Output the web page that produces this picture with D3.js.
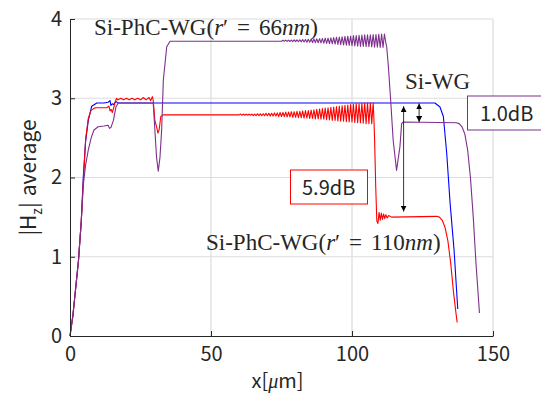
<!DOCTYPE html>
<html>
<head>
<meta charset="utf-8">
<script src="https://cdn.jsdelivr.net/npm/d3@7"></script>
<style>
  body { margin: 0; background: #fff; }
  text { fill: #262626; }
</style>
</head>
<body>
<div id="chart"></div>
<script>
var width = 541;
var height = 394;
var margin = {left: 70, right: 48, top: 19, bottom: 58};

// tick values
var xTicks = [0, 50, 100, 150];
var yTicks = [0, 1, 2, 3, 4];

// Si-WG (blue)
var siWG = [[0,0],[1,0.25],[2,0.6],[3,0.95],[4,1.45],[4.7,2.0],[5.5,2.45],[6.5,2.72],[7.7,2.9],[9.5,2.94],
  [12,2.94],[13.5,2.95],[14.2,2.97],[14.5,2.91],[15,2.93],[15.5,2.92],[16.2,2.96],[17,2.94],[129.4,2.94],
  [131.2,2.89],[132.4,2.77],[133.6,2.3],[134.8,1.67],[136.2,1.08],[137.5,0.34]];

// Si-PhC-WG r'=66nm (purple)
var phc66 = [[0,0],[1,0.25],[2,0.6],[3,0.95],[4,1.45],[4.7,1.9],[5.5,2.15],[6.5,2.35],[7.5,2.5],[8.5,2.6],
  [10,2.64],[12,2.65],[13.5,2.66],[14,2.62],[14.5,2.63],[15.4,2.72],[16.3,2.89],[17.1,2.94],[29.5,2.94],
  [30.1,2.6],[30.7,2.25],[31.3,2.08],[31.9,2.25],[32.5,2.6],[33.1,3.23],[34.3,3.65],[35.5,3.72],[75,3.72],
  [75.5,3.732],[76,3.718],[76.5,3.733],[77,3.717],[77.5,3.734],[78,3.716],[78.5,3.735],[79,3.715],[79.5,3.736],
  [80,3.714],[80.5,3.737],[81,3.713],[81.5,3.738],[82,3.712],[82.5,3.74],[83,3.71],[83.5,3.742],[84,3.708],
  [84.5,3.744],[85,3.706],[85.5,3.746],[86,3.704],[86.5,3.748],[87,3.702],[87.5,3.75],[88,3.70],[88.5,3.752],
  [89,3.698],[89.5,3.755],[90,3.695],[90.5,3.758],[91,3.692],[91.5,3.76],[92,3.69],[92.5,3.763],[93,3.687],
  [93.5,3.766],[94,3.684],[94.5,3.77],[95,3.68],[95.5,3.773],[96,3.677],[96.5,3.776],[97,3.674],[97.5,3.78],
  [98,3.67],[98.5,3.783],[99,3.667],[99.5,3.786],[100,3.664],[100.5,3.79],[101,3.66],[101.5,3.792],[102,3.658],
  [102.5,3.795],[103,3.655],[103.5,3.797],[104,3.653],[104.5,3.80],[105,3.65],[105.5,3.80],[106,3.65],
  [106.5,3.802],[107,3.648],[107.5,3.805],[108,3.645],[108.5,3.805],[109,3.645],[109.5,3.808],[110,3.642],
  [110.5,3.81],[111,3.64],[111.5,3.81],[112,3.70],[112.3,3.65],[112.9,3.4],[113.7,2.98],[114.6,2.47],
  [115.8,2.09],[117,2.39],[117.6,2.68],[118.2,2.7],[137,2.69],[138,2.68],[139,2.64],[140,2.55],[141,2.35],
  [142,2.0],[143,1.5],[144,0.9],[145.2,0.29]];

// Si-PhC-WG r'=110nm (red)
var phc110 = [[0,0],[1,0.25],[2,0.6],[3,0.95],[4,1.45],[4.8,2.0],[5.6,2.5],[6.5,2.75],[7.5,2.85],[9,2.88],
  [13,2.88],[13.8,2.9],[14.2,2.84],[14.6,2.86],[15,2.82],[15.5,2.88],[16,2.95],[16.5,3.0],[17,2.98],[18,3.0],
  [19,2.98],[20,3.0],[21,2.98],[22,3.0],[23,2.98],[24,3.0],[25,2.98],[26,3.01],[27,2.98],[28,3.01],[28.6,2.97],
  [29.2,3.02],[29.5,2.98],[30.1,2.72],[30.7,2.64],[31.2,2.56],[31.6,2.6],[32.2,2.77],[33,2.79],[60,2.79],
  [60.5,2.80],[61,2.785],[61.5,2.80],[62,2.785],[62.5,2.80],[63,2.785],[63.5,2.80],[64,2.785],[64.5,2.80],
  [65,2.78],[65.5,2.80],[66,2.78],[66.5,2.805],[67,2.78],[67.5,2.805],[68,2.78],[68.5,2.805],[69,2.78],
  [69.5,2.81],[70,2.78],[70.5,2.81],[71,2.775],[71.5,2.81],[72,2.775],[72.5,2.815],[73,2.775],[73.5,2.815],
  [74,2.77],[74.5,2.82],[75,2.77],[75.5,2.82],[76,2.77],[76.5,2.825],[77,2.765],[77.5,2.825],[78,2.765],
  [78.5,2.83],[79,2.76],[79.5,2.83],[80,2.76],[80.5,2.835],[81,2.755],[81.5,2.835],[82,2.755],[82.5,2.84],
  [83,2.75],[83.5,2.845],[84,2.75],[84.5,2.845],[85,2.745],[85.5,2.85],[86,2.745],[86.5,2.855],[87,2.74],
  [87.5,2.86],[88,2.74],[88.5,2.865],[89,2.735],[89.5,2.87],[90,2.735],[90.5,2.875],[91,2.73],[91.5,2.88],
  [92,2.725],[92.5,2.885],[93,2.72],[93.5,2.89],[94,2.72],[94.5,2.895],[95,2.715],[95.5,2.90],[96,2.71],
  [96.5,2.905],[97,2.71],[97.5,2.91],[98,2.705],[98.5,2.915],[99,2.70],[99.5,2.92],[100,2.70],[100.5,2.925],
  [101,2.695],[101.5,2.93],[102,2.69],[102.5,2.93],[103,2.69],[103.5,2.935],[104,2.685],[104.5,2.94],
  [105,2.68],[105.5,2.94],[106,2.68],[106.5,2.94],[107,2.68],[107.5,2.94],[107.7,2.8],[108,2.5],[108.4,1.9],
  [108.8,1.45],[109.2,1.42],[109.6,1.56],[110,1.46],[110.4,1.55],[110.8,1.47],[111.2,1.54],[111.6,1.48],
  [112,1.53],[112.5,1.49],[113,1.52],[114,1.5],[130,1.51],[131,1.5],[132,1.46],[133,1.37],[134,1.2],
  [135,0.92],[136,0.55],[137,0.25],[137.3,0.17]];

var series = [
  {name: "Si-WG", color: "#0000ff", values: siWG},
  {name: "Si-PhC-WG 110nm", color: "#ff0000", values: phc110},
  {name: "Si-PhC-WG 66nm", color: "#7e2f8e", values: phc66}
];

// double arrows (x, from y, to y)
var arrows = [{x: 118.3, y1: 1.57, y2: 2.90}, {x: 123.8, y1: 2.70, y2: 2.935}];

var xScale = d3.scaleLinear().domain([0, 150]).range([margin.left, width - margin.right]);
var yScale = d3.scaleLinear().domain([0, 4]).range([height - margin.bottom, margin.top]);

var svg = d3.select("#chart").append("svg")
  .attr("width", width)
  .attr("height", height)
  .style("font-family", "'Noto Sans CJK JP', 'Noto Sans', sans-serif");

// grid
svg.append("g").selectAll("line").data(xTicks.slice(1)).enter().append("line")
  .attr("x1", d => xScale(d)).attr("x2", d => xScale(d))
  .attr("y1", yScale(0)).attr("y2", yScale(4))
  .attr("stroke", "#dcdcdc").attr("stroke-width", 1.2);
svg.append("g").selectAll("line").data(yTicks.slice(1)).enter().append("line")
  .attr("y1", d => yScale(d)).attr("y2", d => yScale(d))
  .attr("x1", xScale(0)).attr("x2", xScale(150))
  .attr("stroke", "#dcdcdc").attr("stroke-width", 1.2);

// curves
var line = d3.line().x(d => xScale(d[0])).y(d => yScale(d[1]));
svg.append("g").selectAll("path").data(series).enter().append("path")
  .attr("d", d => line(d.values))
  .attr("fill", "none")
  .attr("stroke", d => d.color)
  .attr("stroke-width", 1.1)
  .attr("stroke-linejoin", "round");

// axes, ticks inside
var xAxis = svg.append("g")
  .attr("transform", `translate(0, ${yScale(0)})`)
  .call(d3.axisBottom(xScale).tickValues(xTicks).tickFormat(d3.format("d"))
    .tickSizeInner(-5).tickSizeOuter(0).tickPadding(11));
var yAxis = svg.append("g")
  .attr("transform", `translate(${xScale(0)}, 0)`)
  .call(d3.axisLeft(yScale).tickValues(yTicks).tickFormat(d3.format("d"))
    .tickSizeInner(-5).tickSizeOuter(0).tickPadding(8));
[xAxis, yAxis].forEach(function (ax) {
  ax.selectAll("path, line").attr("stroke", "#262626");
  ax.selectAll("text").style("font-size", "20px").attr("fill", "#262626")
    .style("font-family", "'Noto Sans CJK JP', sans-serif");
});

// axis labels
var xl = svg.append("text")
  .attr("x", (xScale(0) + xScale(150)) / 2 - 4)
  .attr("y", 388)
  .attr("text-anchor", "middle")
  .style("font-size", "20px");
xl.append("tspan").text("x[");
xl.append("tspan").text("μ").style("font-family", "'Liberation Serif', serif").style("font-style", "italic");
xl.append("tspan").text("m]");

var yl = svg.append("text")
  .attr("transform", `translate(36, ${(yScale(0) + yScale(4)) / 2}) rotate(-90)`)
  .attr("text-anchor", "middle")
  .style("font-size", "21px");
yl.append("tspan").text("|H");
yl.append("tspan").text("z").attr("dy", 6).style("font-size", "14px");
yl.append("tspan").text("|").attr("dy", -6);
yl.append("tspan").text("average").attr("dx", 6);

// arrows
var defs = svg.append("defs");
defs.append("marker").attr("id", "ah")
  .attr("viewBox", "0 0 10 10").attr("refX", 10).attr("refY", 5)
  .attr("markerWidth", 6).attr("markerHeight", 6).attr("markerUnits", "userSpaceOnUse")
  .attr("orient", "auto-start-reverse")
  .append("path").attr("d", "M0,0L10,5L0,10Z").attr("fill", "#000");
svg.append("g").selectAll("line").data(arrows).enter().append("line")
  .attr("x1", d => xScale(d.x)).attr("x2", d => xScale(d.x))
  .attr("y1", d => yScale(d.y1)).attr("y2", d => yScale(d.y2))
  .attr("stroke", "#000").attr("stroke-width", 0.8)
  .attr("marker-start", "url(#ah)").attr("marker-end", "url(#ah)");

// serif annotations
function wgLabel(x, y, radius) {
  var t = svg.append("text").attr("x", x).attr("y", y)
    .style("font-family", "'Liberation Serif', serif").style("font-size", "23px").attr("fill", "#000");
  t.append("tspan").text("Si-PhC-WG(");
  t.append("tspan").text("r").style("font-style", "italic");
  t.append("tspan").text("′");
  t.append("tspan").text("=").attr("dx", 9);
  t.append("tspan").text(radius).attr("dx", 9);
  t.append("tspan").text("nm").style("font-style", "italic");
  t.append("tspan").text(")");
}
wgLabel(94, 35, "66");
wgLabel(206, 250, "110");

svg.append("text").attr("x", 405).attr("y", 89)
  .style("font-family", "'Liberation Serif', serif").style("font-size", "23px").attr("fill", "#000")
  .text("Si-WG");

// dB boxes
var boxes = [
  {label: "1.0dB", color: "#7e2f8e", x: 467.5, y: 96, w: 80, h: 34, tx: 480, ty: 121},
  {label: "5.9dB", color: "#ff0000", x: 290.5, y: 170, w: 77, h: 34, tx: 302, ty: 195}
];
boxes.forEach(function (b) {
  svg.append("rect").attr("x", b.x).attr("y", b.y).attr("width", b.w).attr("height", b.h)
    .attr("fill", "#fff").attr("stroke", b.color).attr("stroke-width", 1);
  svg.append("text").attr("x", b.tx).attr("y", b.ty).style("font-size", "20px").text(b.label);
});
</script>
</body>
</html>
